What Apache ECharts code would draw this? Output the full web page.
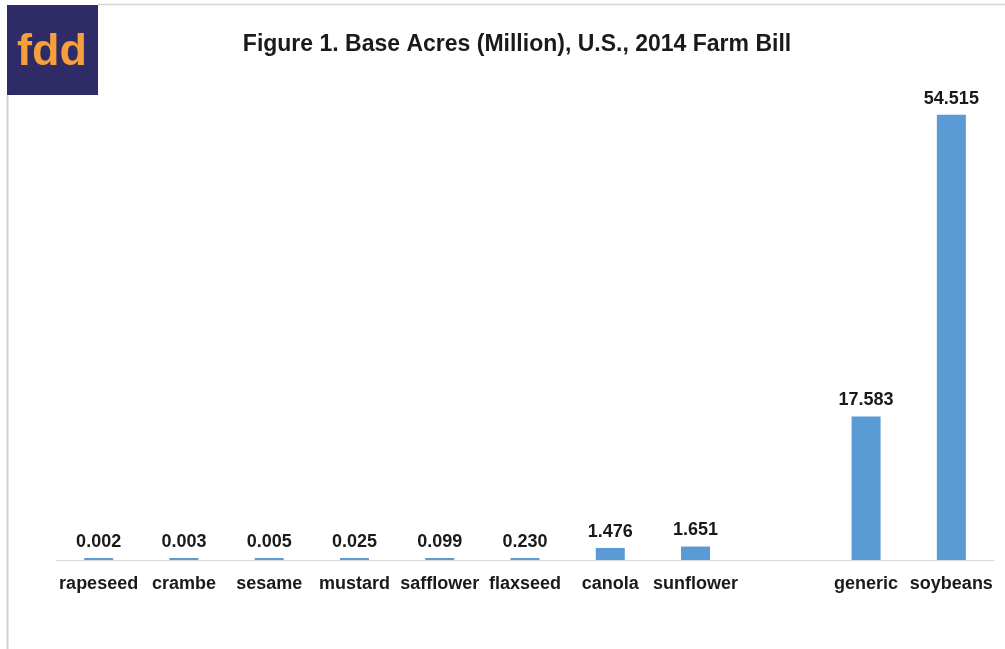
<!DOCTYPE html>
<html><head><meta charset="utf-8">
<script src="https://cdn.jsdelivr.net/npm/echarts@6/dist/echarts.min.js"></script>
<style>html,body{margin:0;padding:0;background:#fff}#c{width:1005px;height:649px}</style>
</head><body><div id="c"></div>
<script>
var titleText = 'Figure 1. Base Acres (Million), U.S., 2014 Farm Bill';
var categories = ['rapeseed','crambe','sesame','mustard','safflower','flaxseed','canola','sunflower','','generic','soybeans'];
var baseAcres = [0.002,0.003,0.005,0.025,0.099,0.230,1.476,1.651,null,17.583,54.515];

var chart = echarts.init(document.getElementById('c'));
chart.setOption({
  animation:false,
  backgroundColor:'#fff',
  title:{text:titleText,left:512,top:28,textAlign:'center',
    textStyle:{fontFamily:'Liberation Sans, Arial',fontWeight:'bold',fontSize:23,color:'#1a1a1a'}},
  grid:{left:56,right:11,top:70,bottom:89,containLabel:false},
  xAxis:{type:'category',data:categories,
    axisLine:{lineStyle:{color:'#d9d9d9',width:1}},axisTick:{show:false},
    axisLabel:{interval:0,margin:15,fontFamily:'Liberation Sans, Arial',fontWeight:'bold',fontSize:18,color:'#1a1a1a'}},
  yAxis:{type:'value',min:0,max:60,show:false,splitLine:{show:false}},
  series:[{type:'bar',data:baseAcres,barWidth:29,barMinHeight:2,
    itemStyle:{color:'#5b9bd5'},
    label:{show:true,position:'top',distance:7,
      formatter:function(p){return p.value==null?'':Number(p.value).toFixed(3);},
      fontFamily:'Liberation Sans, Arial',fontWeight:'bold',fontSize:18,color:'#1a1a1a'}}],
  graphic:[
    {type:'rect',shape:{x:7,y:5,width:91,height:90},style:{fill:'#2f2b66'}},
    {type:'text',left:17,top:30,style:{text:'fdd',fontFamily:'Liberation Sans',fontWeight:'bold',fontSize:45,fill:'#f5a03a'}},
    {type:'line',shape:{x1:7.5,y1:95,x2:7.5,y2:649},style:{stroke:'#cfcfcf',lineWidth:2}},
    {type:'line',shape:{x1:98,y1:4.5,x2:1005,y2:4.5},style:{stroke:'#d6d6d6',lineWidth:1.5}}
  ]
});
</script></body></html>
